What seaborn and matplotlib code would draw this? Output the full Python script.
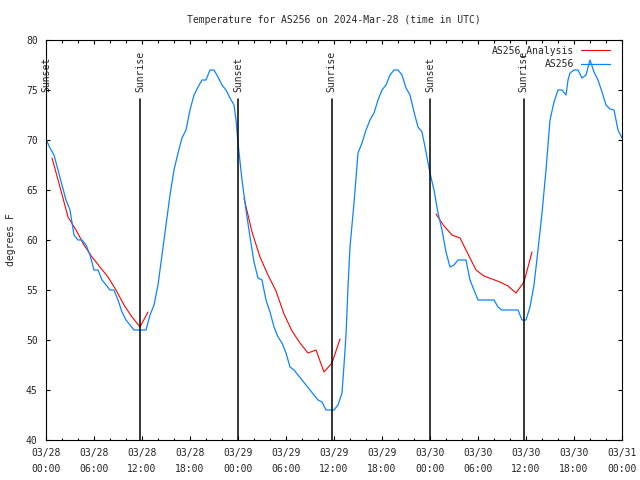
import pandas as pd
import seaborn as sns
import matplotlib.pyplot as plt
import matplotlib.dates as mdates

# Observed temperature (hours after 2024-03-28 00:00 UTC, deg F)
obs_hours = [0.05, 0.5, 1.0, 1.5, 2.0, 2.5, 3.0, 3.5, 4.0, 4.5, 5.0, 5.5, 6.0, 6.5, 7.0, 7.5,
             8.0, 8.5, 9.0, 9.5, 10.0, 10.5, 11.0, 11.5, 12.0, 12.5, 13.0, 13.5, 14.0, 14.5,
             15.0, 15.5, 16.0, 16.5, 17.0, 17.5, 18.0, 18.5, 19.0, 19.5, 20.0, 20.5, 21.0,
             21.5, 22.0, 22.5, 23.0, 23.5, 23.75, 24.0, 24.5, 25.0, 25.5, 26.0, 26.5, 27.0,
             27.5, 28.0, 28.5, 29.0, 29.5, 30.0, 30.5, 31.0, 31.5, 32.0, 32.5, 33.0, 33.5,
             34.0, 34.5, 35.0, 35.5, 36.0, 36.5, 37.0, 37.25, 37.5, 37.75, 38.0, 38.5, 39.0,
             39.5, 40.0, 40.5, 41.0, 41.5, 42.0, 42.5, 43.0, 43.5, 44.0, 44.5, 45.0, 45.5,
             46.0, 46.5, 47.0, 47.5, 48.0, 48.5, 49.0, 49.5, 50.0, 50.5, 51.0, 51.5, 52.0,
             52.5, 53.0, 53.5, 54.0, 54.5, 55.0, 55.5, 56.0, 56.5, 57.0, 57.5, 58.0, 58.5,
             59.0, 59.5, 60.0, 60.5, 61.0, 61.5, 62.0, 62.5, 63.0, 63.5, 64.0, 64.5, 65.0,
             65.25, 65.5, 66.0, 66.5, 67.0, 67.5, 68.0, 68.5, 69.0, 69.5, 70.0, 70.5, 71.0,
             71.5, 72.0]
obs_temp = [70, 69.2, 68.5, 67, 65.5, 64, 63, 60.5, 60, 60, 59.5, 58.5, 57, 57, 56, 55.5,
            55, 55, 54, 52.8, 52, 51.5, 51, 51, 51, 51, 52.5, 53.5, 55.5, 58.5,
            61.5, 64.5, 67, 68.7, 70.2, 71, 73, 74.5, 75.3, 76, 76, 77, 77,
            76.3, 75.5, 75, 74.2, 73.5, 72, 69.7, 66, 63, 60.3, 57.8, 56.2, 56,
            54, 52.8, 51.3, 50.3, 49.7, 48.7, 47.3, 47, 46.5, 46, 45.5, 45, 44.5,
            44, 43.8, 43, 43, 43, 43.5, 44.7, 47.5, 50.5, 55.3, 59.3, 63.7, 68.7,
            69.7, 71, 72, 72.7, 74, 75, 75.5, 76.5, 77, 77, 76.5, 75.2, 74.5,
            72.8, 71.3, 70.8, 68.8, 66.7, 65, 62.7, 61, 58.8, 57.3, 57.5, 58, 58,
            58, 56, 55, 54, 54, 54, 54, 54, 53.3, 53, 53, 53, 53,
            53, 52, 52, 53.3, 55.5, 59, 62.7, 67, 72, 73.8, 75, 75, 74.5,
            76, 76.7, 77, 77, 76.2, 76.5, 78, 76.8, 76, 74.8, 73.5, 73.1, 73,
            71, 70.2]

# Overnight analysis (hourly)
ana_hours = [0.75, 1.75, 2.75, 3.75, 4.75, 5.75, 6.75, 7.75, 8.75, 9.75, 10.75, 11.75, 12.75,
             24.75, 25.75, 26.75, 27.75, 28.75, 29.75, 30.75, 31.75, 32.75, 33.75, 34.75,
             35.75, 36.75,
             48.75, 49.75, 50.75, 51.75, 52.75, 53.75, 54.75, 55.75, 56.75, 57.75, 58.75,
             59.75, 60.75]
ana_temp = [68.2, 65.3, 62.3, 61.0, 59.5, 58.3, 57.3, 56.3, 55.0, 53.5, 52.3, 51.3, 52.8,
            64.2, 60.8, 58.3, 56.5, 54.9, 52.6, 50.9, 49.7, 48.7, 49.0, 46.8,
            47.7, 50.1,
            62.6, 61.4, 60.5, 60.2, 58.6, 57.0, 56.4, 56.1, 55.8, 55.4, 54.7,
            55.8, 58.8]
ana_night = [1] * 13 + [2] * 13 + [3] * 13

sun_hours = [0.05, 11.75, 24.05, 35.73, 48.05, 59.7]
sun_labels = ["Sunset", "Sunrise", "Sunset", "Sunrise", "Sunset", "Sunrise"]

start = pd.Timestamp("2024-03-28 00:00")
obs = pd.DataFrame({"time": start + pd.to_timedelta(obs_hours, unit="h"), "temp": obs_temp})
ana = pd.DataFrame({"time": start + pd.to_timedelta(ana_hours, unit="h"), "temp": ana_temp,
                    "night": ana_night})

sns.set_style("ticks")
plt.rcParams["font.family"] = ["DejaVu Sans Mono", "DejaVu Sans"]
plt.rcParams["font.size"] = 7

fig = plt.figure(figsize=(6.4, 4.8), dpi=100)
ax = fig.add_axes([46 / 640, 40 / 480, 576 / 640, 400 / 480])

# analysis drawn per night so the gaps stay empty
for i, (n, grp) in enumerate(ana.groupby("night")):
    sns.lineplot(data=grp, x="time", y="temp", ax=ax, color="#ff0000", lw=0.8,
                 label="AS256_Analysis" if i == 0 else None, legend=False)
sns.lineplot(data=obs, x="time", y="temp", ax=ax, color="#0a84ff", lw=0.9,
             label="AS256", legend=False)

for h, lab in zip(sun_hours, sun_labels):
    t = start + pd.Timedelta(hours=h)
    ax.axvline(t, ymin=0, ymax=0.8525, color="black", lw=1.1)
    ax.text(t, 74.75, lab, rotation=90, ha="center", va="bottom", fontsize=7)

ax.set_xlim(start, start + pd.Timedelta(hours=72))
ax.set_ylim(40, 80)
ax.set_yticks(range(40, 81, 5))
ax.xaxis.set_major_locator(mdates.HourLocator(byhour=[0, 6, 12, 18]))
ax.xaxis.set_minor_locator(mdates.HourLocator(byhour=range(0, 24, 2)))
ax.xaxis.set_major_formatter(mdates.DateFormatter("%m/%d\n%H:%M"))
for lbl in ax.get_xticklabels():
    lbl.set_linespacing(1.75)

ax.tick_params(which="both", direction="in", top=True, right=True, width=0.8,
               labelsize=7, color="black")
ax.tick_params(which="major", length=3)
ax.tick_params(which="minor", length=1.8)
ax.tick_params(axis="x", pad=6)
ax.tick_params(axis="y", pad=6)
for s in ax.spines.values():
    s.set_linewidth(0.8)
    s.set_color("black")

ax.set_xlabel("")
ax.set_ylabel("degrees F", fontsize=7)
ax.yaxis.set_label_coords(-0.052, 0.5)
ax.set_title("Temperature for AS256 on 2024-Mar-28 (time in UTC)", fontsize=7, pad=12)

ax.legend(loc="upper right", bbox_to_anchor=(0.979, 0.9875), frameon=False,
          markerfirst=False, handlelength=3.0, handletextpad=0.7, labelspacing=0.35,
          borderpad=0, borderaxespad=0, fontsize=7)

fig.savefig("out.png", dpi=100)
